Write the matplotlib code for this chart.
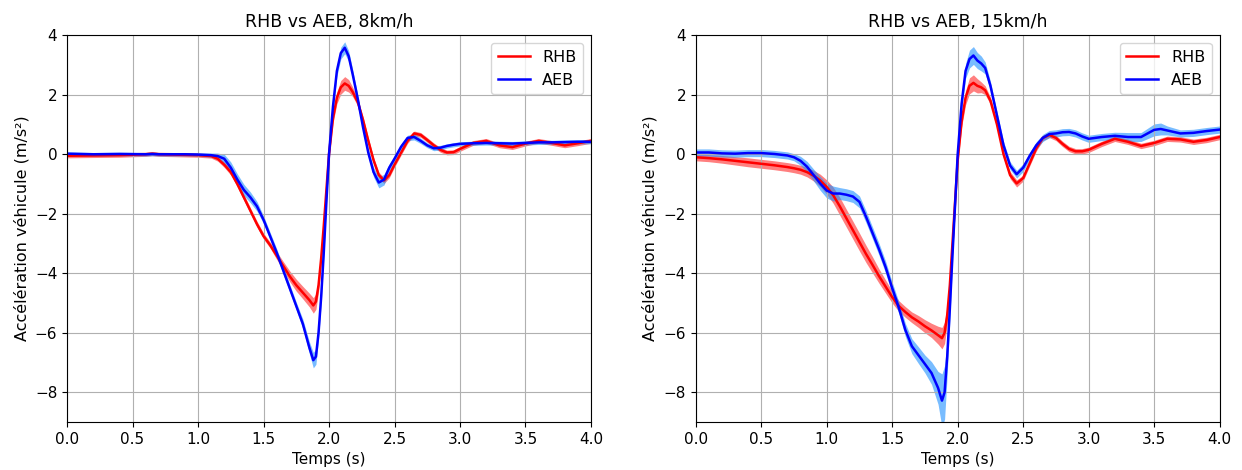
import numpy as np
import matplotlib
matplotlib.use("Agg")
import matplotlib.pyplot as plt

# 8 km/h test
t_8 = [0, 0.2, 0.4, 0.6, 0.65, 0.7, 0.9, 1.0, 1.1, 1.15, 1.2, 1.25, 1.3, 1.35, 1.4,
       1.45, 1.5, 1.55, 1.6, 1.65, 1.7, 1.75, 1.8, 1.85, 1.88, 1.9, 1.92, 1.94, 1.96,
       1.98, 2.0, 2.03, 2.06, 2.09, 2.12, 2.15, 2.18, 2.22, 2.26, 2.3, 2.34, 2.38,
       2.42, 2.46, 2.5, 2.55, 2.6, 2.65, 2.7, 2.75, 2.8, 2.85, 2.9, 2.95, 3.0, 3.1,
       3.2, 3.3, 3.4, 3.5, 3.6, 3.7, 3.8, 3.9, 4.0]
rhb_8 = [-0.05, -0.04, -0.03, 0.0, 0.02, 0.0, -0.02, -0.03, -0.06, -0.15, -0.35, -0.6,
         -1.0, -1.45, -1.9, -2.35, -2.75, -3.05, -3.4, -3.75, -4.1, -4.4, -4.65, -4.9,
         -5.08, -4.95, -4.4, -3.5, -2.4, -1.2, 0.0, 1.2, 1.9, 2.25, 2.38, 2.3, 2.1,
         1.75, 1.15, 0.45, -0.2, -0.7, -0.88, -0.7, -0.35, 0.05, 0.45, 0.7, 0.65, 0.48,
         0.3, 0.15, 0.06, 0.07, 0.18, 0.38, 0.45, 0.3, 0.24, 0.36, 0.45, 0.38, 0.3,
         0.37, 0.45]
rhb_8_std = [0.07, 0.07, 0.07, 0.07, 0.07, 0.07, 0.07, 0.07, 0.07, 0.08, 0.09, 0.1,
             0.1, 0.1, 0.1, 0.1, 0.1, 0.1, 0.13, 0.15, 0.18, 0.2, 0.21, 0.23,
             0.26, 0.26, 0.23, 0.2, 0.16, 0.13, 0.13, 0.16, 0.2, 0.23, 0.23, 0.21, 0.16,
             0.13, 0.1, 0.1, 0.1, 0.1, 0.1, 0.09, 0.08, 0.08, 0.08, 0.08, 0.08,
             0.08, 0.08, 0.08, 0.08, 0.08, 0.08, 0.08, 0.08, 0.08, 0.08, 0.08, 0.08,
             0.08, 0.08, 0.08, 0.08]
aeb_8 = [0.02, 0.0, 0.01, 0.0, 0.01, 0.0, 0.0, -0.01, -0.03, -0.06, -0.15, -0.45,
         -0.85, -1.2, -1.45, -1.75, -2.2, -2.75, -3.3, -3.9, -4.5, -5.1, -5.7, -6.5,
         -6.92, -6.8, -6.0, -4.8, -3.3, -1.6, 0.0, 1.6, 2.8, 3.4, 3.58, 3.3, 2.7, 1.85,
         0.9, 0.05, -0.6, -0.95, -0.85, -0.45, -0.15, 0.25, 0.55, 0.58, 0.45, 0.3, 0.2,
         0.22, 0.28, 0.32, 0.35, 0.37, 0.38, 0.37, 0.36, 0.38, 0.4, 0.4, 0.41, 0.42,
         0.42]
aeb_8_std = [0.06, 0.06, 0.06, 0.06, 0.06, 0.06, 0.06, 0.06, 0.07, 0.1, 0.15, 0.19,
             0.19, 0.19, 0.18, 0.16, 0.13, 0.13, 0.13, 0.13, 0.13, 0.13, 0.16, 0.2, 0.26,
             0.26, 0.23, 0.2, 0.16, 0.13, 0.13, 0.16, 0.18, 0.2, 0.2, 0.18, 0.16, 0.13,
             0.13, 0.13, 0.16, 0.18, 0.18, 0.13, 0.1, 0.09, 0.09, 0.1, 0.09, 0.08, 0.08,
             0.08, 0.07, 0.07, 0.07, 0.07, 0.07, 0.07, 0.07, 0.07, 0.07, 0.07, 0.07,
             0.07, 0.07]

# 15 km/h test
t_15 = [0, 0.1, 0.2, 0.3, 0.4, 0.5, 0.6, 0.7, 0.75, 0.8, 0.85, 0.9, 0.95, 1.0, 1.05,
        1.1, 1.15, 1.2, 1.25, 1.3, 1.35, 1.4, 1.45, 1.5, 1.55, 1.6, 1.65, 1.7, 1.75,
        1.8, 1.85, 1.88, 1.9, 1.92, 1.94, 1.96, 1.98, 2.0, 2.03, 2.06, 2.09, 2.12,
        2.15, 2.18, 2.21, 2.25, 2.3, 2.35, 2.4, 2.45, 2.5, 2.55, 2.6, 2.65, 2.7, 2.75,
        2.8, 2.85, 2.9, 2.95, 3.0, 3.1, 3.2, 3.3, 3.4, 3.5, 3.55, 3.6, 3.7, 3.8, 3.9,
        4.0]
rhb_15 = [-0.1, -0.13, -0.17, -0.22, -0.27, -0.32, -0.37, -0.43, -0.47, -0.52, -0.6,
          -0.72, -0.88, -1.1, -1.38, -1.75, -2.15, -2.55, -2.95, -3.35, -3.72, -4.1,
          -4.45, -4.8, -5.1, -5.3, -5.48, -5.62, -5.78, -5.92, -6.08, -6.18, -6.0,
          -5.4, -4.4, -3.0, -1.6, -0.2, 1.1, 1.9, 2.3, 2.4, 2.3, 2.25, 2.15, 1.8, 1.0,
          0.0, -0.7, -0.98, -0.8, -0.3, 0.2, 0.55, 0.65, 0.55, 0.35, 0.18, 0.1, 0.1,
          0.15, 0.35, 0.52, 0.42, 0.28, 0.38, 0.45, 0.52, 0.5, 0.42, 0.48, 0.58]
rhb_15_std = [0.12, 0.12, 0.13, 0.14, 0.15, 0.15, 0.15, 0.15, 0.15, 0.15, 0.16, 0.18,
              0.21, 0.24, 0.27, 0.3, 0.3, 0.3, 0.3, 0.29, 0.27, 0.24, 0.22, 0.2,
              0.18, 0.18, 0.18, 0.2, 0.22, 0.24, 0.3, 0.36, 0.36, 0.3, 0.24, 0.18,
              0.15, 0.15, 0.18, 0.24, 0.27, 0.27, 0.24, 0.18, 0.15, 0.12, 0.12, 0.12,
              0.12, 0.12, 0.1, 0.09, 0.09, 0.09, 0.09, 0.09, 0.09, 0.09, 0.09, 0.09,
              0.09, 0.09, 0.09, 0.09, 0.09, 0.09, 0.09, 0.09, 0.09, 0.09, 0.09, 0.09]
aeb_15 = [0.06, 0.06, 0.03, 0.02, 0.04, 0.04, 0.01, -0.04, -0.1, -0.22, -0.42, -0.7,
          -0.98, -1.22, -1.32, -1.32, -1.36, -1.42, -1.6, -2.1, -2.65, -3.2, -3.8,
          -4.5, -5.15, -5.9, -6.45, -6.75, -7.05, -7.35, -7.85, -8.28, -8.0, -6.8,
          -5.2, -3.4, -1.7, 0.0, 1.7, 2.8, 3.2, 3.32, 3.15, 3.05, 2.9, 2.3, 1.3, 0.3,
          -0.38, -0.67, -0.45, -0.05, 0.3, 0.55, 0.68, 0.7, 0.74, 0.75, 0.7, 0.6, 0.52,
          0.58, 0.62, 0.58, 0.58, 0.82, 0.85, 0.8, 0.7, 0.72, 0.78, 0.83]
aeb_15_std = [0.12, 0.12, 0.12, 0.12, 0.12, 0.12, 0.12, 0.12, 0.12, 0.15, 0.18, 0.2,
              0.23, 0.25, 0.25, 0.2, 0.2, 0.2, 0.2, 0.2, 0.2, 0.2, 0.2, 0.2, 0.2,
              0.22, 0.25, 0.28, 0.3, 0.38, 0.55, 0.9, 0.9, 0.6, 0.36, 0.25, 0.2, 0.15,
              0.2, 0.25, 0.3, 0.3, 0.27, 0.25, 0.2, 0.15, 0.13, 0.13, 0.13, 0.13, 0.13,
              0.12, 0.12, 0.12, 0.12, 0.12, 0.12, 0.12, 0.12, 0.12, 0.12, 0.12, 0.12,
              0.15, 0.15, 0.2, 0.2, 0.15, 0.12, 0.12, 0.12, 0.12]

tests = [("RHB vs AEB, 8km/h", t_8, rhb_8, rhb_8_std, aeb_8, aeb_8_std),
         ("RHB vs AEB, 15km/h", t_15, rhb_15, rhb_15_std, aeb_15, aeb_15_std)]

fig, axes = plt.subplots(1, 2, figsize=(12.42, 4.7), dpi=100)
fig.subplots_adjust(left=0.054, right=0.982, bottom=0.102, top=0.925, wspace=0.2)

for ax, (title, t, rhb, rhb_sd, aeb, aeb_sd) in zip(axes, tests):
    t = np.array(t)
    rhb, rhb_sd = np.array(rhb), np.array(rhb_sd)
    aeb, aeb_sd = np.array(aeb), np.array(aeb_sd)
    ax.fill_between(t, rhb - rhb_sd, rhb + rhb_sd, color="red", alpha=0.5, lw=0)
    ax.fill_between(t, aeb - aeb_sd, aeb + aeb_sd, color="dodgerblue", alpha=0.6, lw=0)
    ax.plot(t, rhb, color="red", lw=1.8, label="RHB")
    ax.plot(t, aeb, color="blue", lw=1.8, label="AEB")
    ax.set_xlim(0, 4)
    ax.set_ylim(-9, 4)
    ax.set_xticks(np.arange(0, 4.01, 0.5))
    ax.set_yticks([-8, -6, -4, -2, 0, 2, 4])
    ax.grid(True, color="#b0b0b0", lw=0.8)
    ax.set_title(title, fontsize=12.5)
    ax.set_xlabel("Temps (s)", fontsize=11)
    ax.set_ylabel("Accélération véhicule (m/s²)", fontsize=11.5)
    ax.tick_params(labelsize=11)
    ax.legend(loc="upper right", fontsize=11.5)

fig.savefig("out.png")
